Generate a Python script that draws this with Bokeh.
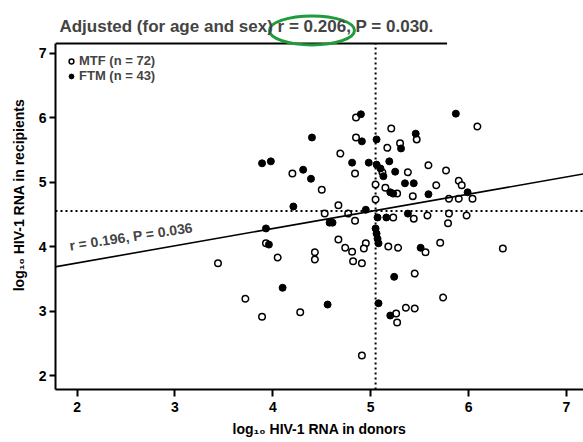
from bokeh.plotting import figure
from bokeh.models import Span, Slope, Label, Range1d, Legend, LegendItem
from bokeh.embed import file_html
from bokeh.resources import INLINE

# MTF (open circles)
mtf_donor = [4.85, 4.85, 4.69, 4.20, 4.84, 4.50, 5.05, 5.05, 4.67, 4.53, 4.77, 4.84,
             5.21, 6.09, 5.17, 5.30, 5.47, 5.12, 5.38, 5.59, 5.77, 5.67, 5.90, 5.93,
             5.15, 5.27, 5.43, 5.80, 5.90, 6.04, 5.23, 5.44, 5.58, 5.80, 5.98, 5.79,
             4.95, 5.18, 5.28, 5.71, 6.35, 5.74, 3.93, 4.67, 4.74, 4.81, 4.93, 4.82,
             4.91, 4.43, 4.43, 4.05, 5.56, 5.45, 4.28, 3.89, 5.26, 5.27, 5.36, 5.45,
             4.91, 3.44, 3.72]
mtf_recip = [6.00, 5.69, 5.44, 5.13, 5.13, 4.88, 4.96, 4.73, 4.64, 4.51, 4.51, 4.40,
             5.83, 5.86, 5.53, 5.60, 5.66, 5.15, 5.15, 5.26, 5.18, 4.95, 5.02, 4.95,
             4.91, 4.82, 4.78, 4.74, 4.74, 4.74, 4.45, 4.43, 4.48, 4.51, 4.48, 4.36,
             4.05, 4.00, 3.98, 4.06, 3.97, 3.21, 4.05, 4.11, 3.98, 3.92, 3.97, 3.77,
             3.74, 3.91, 3.80, 3.83, 3.91, 3.58, 2.98, 2.91, 2.96, 2.82, 3.05, 3.04,
             2.31, 3.74, 3.19]

# FTM (filled circles)
ftm_donor = [4.90, 5.87, 4.40, 4.91, 5.06, 5.46, 5.31, 3.89, 3.98, 4.81, 4.98, 5.06,
             5.19, 4.31, 4.39, 5.10, 5.13, 5.25, 5.35, 5.44, 4.21, 4.95, 5.16, 5.38,
             5.59, 5.99, 5.20, 5.23, 4.58, 4.61, 3.93, 5.05, 5.06, 5.07, 5.08, 3.96,
             5.51, 5.24, 4.10, 4.56, 5.08, 5.20, 5.07]
ftm_recip = [6.05, 6.06, 5.69, 5.63, 5.66, 5.75, 5.52, 5.29, 5.32, 5.30, 5.30, 5.27,
             5.32, 5.19, 5.05, 5.21, 5.09, 5.16, 4.98, 4.98, 4.62, 4.57, 4.45, 4.51,
             4.81, 4.84, 4.84, 4.82, 4.37, 4.37, 4.28, 4.28, 4.20, 4.12, 4.05, 4.03,
             3.98, 3.53, 3.36, 3.10, 3.12, 2.93, 4.45]

x_ticks = [2, 3, 4, 5, 6, 7]
y_ticks = [2, 3, 4, 5, 6, 7]
mean_donor = 5.05
mean_recip = 4.55
reg_intercept = 3.21
reg_slope = 0.267

FONT = "Liberation Sans"

# plotting window (frame box) in data units
x_lo, x_hi = 1.78, 7.174
y_lo, y_box_top, y_hi = 1.783, 7.147, 7.814
top_line_end = 5.78

p = figure(width=583, height=442,
           x_range=Range1d(x_lo, x_hi), y_range=Range1d(y_lo, y_hi),
           output_backend="svg", toolbar_location=None,
           min_border_left=55, min_border_right=0, min_border_top=0, min_border_bottom=53)
p.outline_line_color = None
p.xgrid.visible = False
p.ygrid.visible = False
p.background_fill_color = "white"
p.border_fill_color = "white"

for ax in (p.xaxis[0], p.yaxis[0]):
    ax.axis_line_width = 2
    ax.major_tick_line_width = 2
    ax.major_tick_in = 0
    ax.minor_tick_line_color = None
    ax.major_label_text_font = FONT
    ax.major_label_text_font_style = "bold"
    ax.major_label_text_font_size = "14px"
    ax.axis_label_text_font = FONT
    ax.axis_label_text_font_style = "bold"
    ax.axis_label_text_font_size = "14px"
    ax.major_label_text_color = "black"
    ax.axis_label_text_color = "black"
p.xaxis.ticker = x_ticks
p.yaxis.ticker = y_ticks
p.yaxis.bounds = (y_lo, y_box_top)
p.xaxis.major_tick_out = 7
p.yaxis.major_tick_out = 6
p.xaxis.major_label_standoff = 5
p.yaxis.major_label_standoff = 3
p.xaxis.axis_label = "log₁₀ HIV-1 RNA in donors"
p.yaxis.axis_label = "log₁₀ HIV-1 RNA in recipients"
p.xaxis.axis_label_standoff = 6
p.yaxis.axis_label_standoff = 9

# top frame line
p.segment(x0=[x_lo], y0=[y_box_top], x1=[top_line_end], y1=[y_box_top],
          line_color="black", line_width=2)

# mean lines
p.segment(x0=[mean_donor], y0=[y_lo], x1=[mean_donor], y1=[y_box_top],
          line_color="black", line_width=2, line_dash="2 3")
p.add_layout(Span(location=mean_recip, dimension="width", line_color="black",
                  line_width=2, line_dash="2 3"))

# regression line
p.add_layout(Slope(gradient=reg_slope, y_intercept=reg_intercept,
                   line_color="black", line_width=1.6))

r_open = p.scatter(mtf_donor, mtf_recip, marker="circle", size=6.5,
                   fill_color="white", line_color="black", line_width=1.5)
r_fill = p.scatter(ftm_donor, ftm_recip, marker="circle", size=7,
                   fill_color="black", line_color="black", line_width=1)

legend = Legend(items=[LegendItem(label="MTF (n = 72)", renderers=[r_open]),
                       LegendItem(label="FTM (n = 43)", renderers=[r_fill])],
                location=(10, 306), orientation="vertical",
                border_line_color=None, background_fill_alpha=0,
                padding=0, margin=0, spacing=0,
                glyph_width=12, glyph_height=12, label_height=12,
                label_standoff=2, label_text_font=FONT,
                label_text_font_style="bold", label_text_font_size="13px")
p.add_layout(legend)

p.add_layout(Label(x=1.934, y=3.89, text="r = 0.196,  P = 0.036",
                   angle=8.5, angle_units="deg", text_font=FONT,
                   text_font_style="bold", text_font_size="14px"))

# title
p.add_layout(Label(x=1.82, y=7.27, text="Adjusted (for age and sex) r = 0.206, P = 0.030.",
                   text_font=FONT, text_font_style="bold", text_font_size="17px"))
p.ellipse(x=[4.40], y=[7.35], width=85, height=29, width_units="screen",
          height_units="screen", fill_color=None, line_color="#1e9b3a", line_width=3)

open("out.html", "w").write(file_html(p, INLINE))
